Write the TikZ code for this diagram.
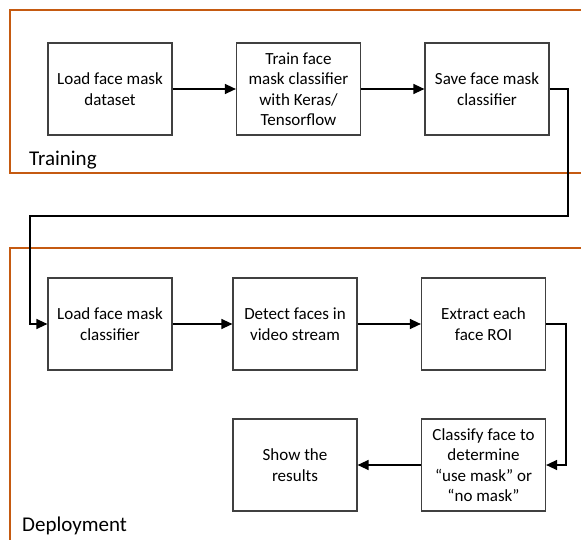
\documentclass[tikz,border=0pt]{standalone}
\usepackage{fontspec}
\setmainfont{Carlito}
\usetikzlibrary{arrows.meta}
\definecolor{frameorange}{RGB}{197,90,17}
\definecolor{boxgrey}{RGB}{64,64,64}
\begin{document}
\begin{tikzpicture}[x=1pt,y=-1pt,
  stepbox/.style={draw=boxgrey,line width=1.2pt,fill=white,minimum width=124pt,minimum height=92pt,
    inner sep=0pt,align=center,font=\fontsize{17}{20.5}\selectfont},
  flow/.style={draw=black,line width=1.4pt,-{Triangle[length=11pt,width=10pt]}},
  frame/.style={draw=frameorange,line width=2pt},
  grouplabel/.style={anchor=west,inner sep=0pt,font=\fontsize{21}{24}\selectfont}]
\useasboundingbox (0,0) rectangle (581,540);
\fill[white] (0,0) rectangle (581,540);
% frames
\draw[frame] (620,10) -- (10,10) -- (10,173) -- (620,173);
\draw[frame] (620,248) -- (10,248) -- (10,560);
\node[grouplabel] (tl) at (29,160) {Training};
\node[grouplabel] (dl) at (22,526) {Deployment};
% boxes
\node[stepbox] (b1) at (110,89) {Load face mask\\dataset};
\node[stepbox] (b2) at (298.5,89) {Train face\\mask classifier\\with Keras/\\Tensorflow};
\node[stepbox] (b3) at (487,89) {Save face mask\\classifier};
\node[stepbox] (d1) at (110,324) {Load face mask\\classifier};
\node[stepbox] (d2) at (295,324) {Detect faces in\\video stream};
\node[stepbox] (d3) at (483.5,324) {Extract each\\face ROI};
\node[stepbox] (d5) at (483.5,465) {Classify face to\\determine\\“use mask” or\\“no mask”};
\node[stepbox] (d4) at (295,465) {Show the\\results};
% routing points
\coordinate (r1) at (568,89);
\coordinate (r2) at (568,216);
\coordinate (r3) at (30,216);
\coordinate (r4) at (30,324);
\coordinate (s1) at (566,324);
\coordinate (s2) at (566,465);
% connectors
\draw[flow] (b1) -- (b2);
\draw[flow] (b2) -- (b3);
\draw[flow] (b3.east) -- (r1) -- (r2) -- (r3) -- (r4) -- (d1.west);
\draw[flow] (d1) -- (d2);
\draw[flow] (d2) -- (d3);
\draw[flow] (d3.east) -- (s1) -- (s2) -- (d5.east);
\draw[flow] (d5) -- (d4);
\end{tikzpicture}
\end{document}
